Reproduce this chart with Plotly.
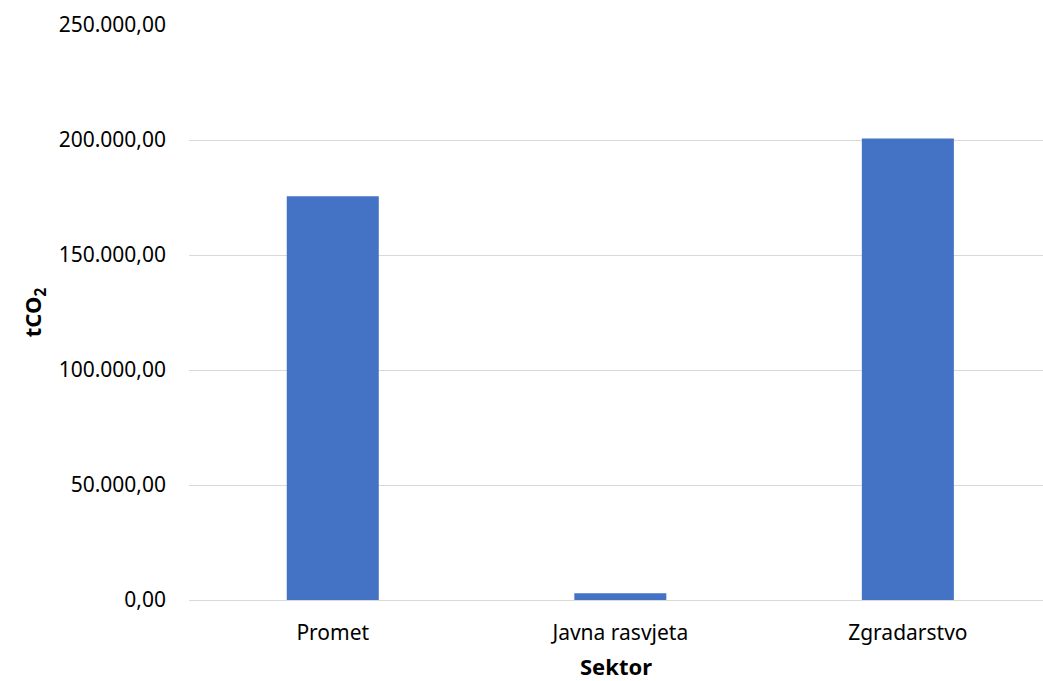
import plotly.graph_objects as go

categories = ["Promet", "Javna rasvjeta", "Zgradarstvo"]
values = [175500, 2900, 200600]
y_ticks = [0, 50000, 100000, 150000, 200000, 250000]

fig = go.Figure(go.Bar(
    x=categories, y=values, marker=dict(color="#4472C4", line=dict(width=0)),
    width=0.32,
))

font_family = "Noto Sans, Open Sans, sans-serif"
fig.update_layout(
    width=1043, height=681,
    margin=dict(l=189, r=0, t=25, b=81),
    plot_bgcolor="white", paper_bgcolor="white",
    separators=",.",
    showlegend=False,
    font=dict(family=font_family, size=21, color="#000000"),
)
fig.update_xaxes(
    range=[-0.5, 2.47], showgrid=False, showline=False, ticks="",
    tickfont=dict(size=21), ticklabelstandoff=18,
    title=dict(text="<b>Sektor</b>", font=dict(size=22), standoff=15),
)
fig.update_yaxes(
    range=[0, 250000], tickvals=y_ticks, tickformat=",.2f",
    showgrid=True, gridcolor="#d9d9d9", gridwidth=1,
    zeroline=True, zerolinecolor="#d9d9d9", zerolinewidth=1,
    showline=False, ticks="", tickfont=dict(size=21),
    ticklabelstandoff=22,
    title=dict(text="<b>tCO<sub>2</sub></b>", font=dict(size=22), standoff=10),
)

fig.write_html(
    "out.html",
    config={"displayModeBar": False},
    post_script="document.body.style.margin='0';document.body.style.overflow='hidden';",
)
